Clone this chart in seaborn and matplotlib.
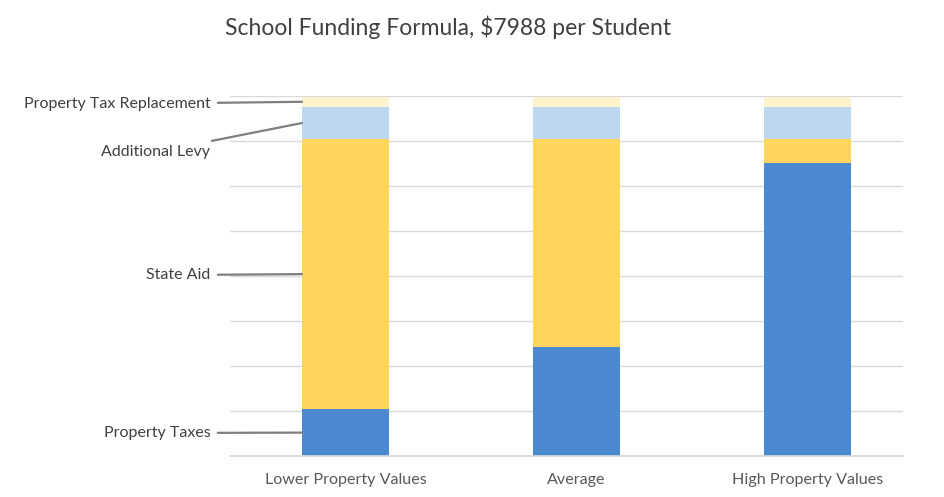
import pandas as pd
import numpy as np
import matplotlib
matplotlib.use("Agg")
import matplotlib.pyplot as plt
import seaborn as sns

# data (dollars per student)
categories = ["Lower Property Values", "Average", "High Property Values"]
property_taxes = [1040, 2420, 6510]
state_aid = [6004, 4624, 534]
additional_levy = [712, 712, 712]
tax_replacement = [232, 232, 232]

layers = ["Property Taxes", "State Aid", "Additional Levy", "Property Tax Replacement"]
layer_values = [property_taxes, state_aid, additional_levy, tax_replacement]
layer_colors = ["#4b8ad0", "#ffd55c", "#bdd7ee", "#fff2cc"]

sns.set_theme(style="white")
plt.rcParams["font.family"] = ["Lato", "DejaVu Sans"]

fig = plt.figure(figsize=(9.45, 4.97), dpi=100)
ax = fig.add_axes([0.2434, 0.0825, 0.7122, 0.7243])

# stacked bars, one seaborn call per layer
bottom = np.zeros(len(categories))
mids = []
for name, vals, col in zip(layers, layer_values, layer_colors):
    vals = np.array(vals, dtype=float)
    sns.barplot(x=categories, y=vals, bottom=bottom, color=col, width=0.377,
                saturation=1, ax=ax, zorder=2, linewidth=0)
    mids.append(bottom[0] + vals[0] / 2)
    bottom = bottom + vals

ax.set_ylim(0, 8000)
ax.set_xlim(-0.5, 2.415)
ax.set_yticks(range(0, 8001, 1000))
ax.yaxis.grid(True, color="#d9d9d9", linewidth=1, zorder=0)
ax.set_yticklabels([])
ax.tick_params(axis="y", length=0)
ax.tick_params(axis="x", length=0, pad=12, labelsize=11.6, labelcolor="#595959")
for s in ["top", "right", "left"]:
    ax.spines[s].set_visible(False)
ax.spines["bottom"].set_color("#d9d9d9")

# leader labels on the left bar
label_y = [511, 4022, 6756, 7822]
bar_left = -0.377 / 2
for name, mid, ly in zip(layers, mids, label_y):
    ax.annotate(name, xy=(bar_left, mid), xytext=(-0.585, ly),
                ha="right", va="center", fontsize=11.5, color="#404040",
                annotation_clip=False,
                arrowprops=dict(arrowstyle="-", color="#7f7f7f", lw=1.6,
                                shrinkA=3, shrinkB=0))

fig.text(0.474, 0.946, "School Funding Formula, $7988 per Student",
         ha="center", va="center", fontsize=16.5, color="#404040")

fig.savefig("out.png", dpi=100)
